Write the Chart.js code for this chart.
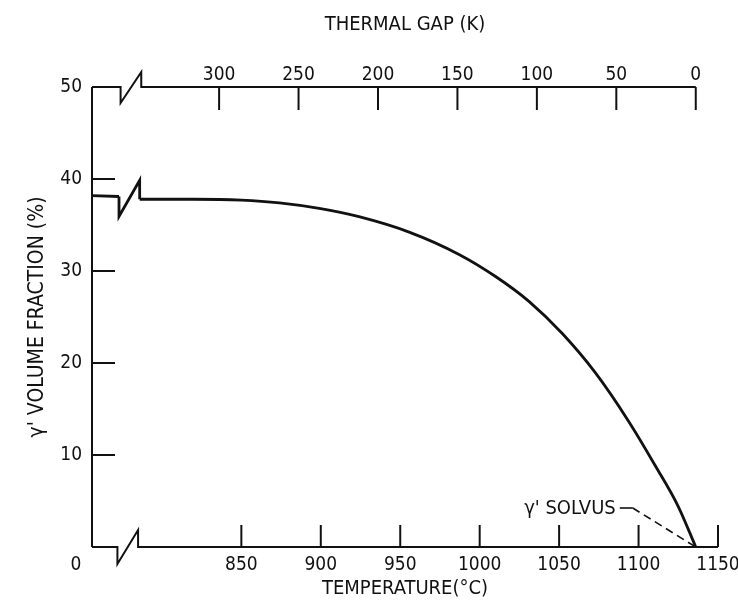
<!DOCTYPE html>
<html>
<head>
<meta charset="utf-8">
<script src="https://cdn.jsdelivr.net/npm/chart.js@4.4.1/dist/chart.umd.min.js"></script>
<style>
  html, body { margin: 0; padding: 0; background: #fff; }
  #wrap { width: 738px; height: 601px; }
</style>
</head>
<body>
<div id="wrap"><canvas id="chart" width="738" height="601"></canvas></div>
<script>
// gamma prime solvus temperature (°C), thermal gap K = solvus - T
const solvus = 1136;

// curve left of the axis break
const leftTemp = [756, 773];
const leftFrac = [38.2, 38.1];

// main curve
const curveTemp = [786, 820, 850, 874, 899, 924, 956, 987, 1010, 1031, 1052, 1073, 1094, 1111, 1125, 1136];
const curveFrac = [37.8, 37.8, 37.7, 37.4, 36.8, 35.9, 34.2, 31.8, 29.4, 26.7, 23.2, 18.9, 13.6, 8.7, 4.4, 0];

// tick labels
const tempTicks = [850, 900, 950, 1000, 1050, 1100, 1150];
const gapTicks = [0, 50, 100, 150, 200, 250, 300];
const fracTicks = [10, 20, 30, 40, 50];

// break positions (°C) on bottom axis, top axis and curve
const bottomBreak = [772, 785];
const topBreak = [774, 787];
const curveBreak = [773, 786];

const FONT = "'Liberation Sans Narrow', 'DejaVu Sans Condensed', 'Arial Narrow', sans-serif";
const INK = '#111';

const zip = (xs, ys) => xs.map((v, i) => ({ x: v, y: ys[i] }));

function poly(ctx, pts) {
  ctx.beginPath();
  ctx.moveTo(pts[0][0], pts[0][1]);
  for (let i = 1; i < pts.length; i++) ctx.lineTo(pts[i][0], pts[i][1]);
  ctx.stroke();
}

// keep the plot box fixed, no extra room for edge labels
const noPad = s => { s.paddingLeft = 0; s.paddingRight = 0; s.paddingTop = 0; s.paddingBottom = 0; };

const axisDecor = {
  id: 'axisDecor',
  afterDatasetsDraw(chart) {
    const { ctx, chartArea: a, scales: { x, y, x2 } } = chart;
    ctx.save();
    ctx.strokeStyle = INK;
    ctx.fillStyle = INK;
    ctx.lineWidth = 2;
    ctx.lineJoin = 'miter';

    // left axis
    poly(ctx, [[a.left, a.top], [a.left, a.bottom]]);

    // bottom axis with break
    const b1 = x.getPixelForValue(bottomBreak[0]), b2 = x.getPixelForValue(bottomBreak[1]);
    poly(ctx, [[a.left, a.bottom], [b1, a.bottom], [b1, a.bottom + 17], [b2, a.bottom - 17], [b2, a.bottom], [a.right, a.bottom]]);

    // top axis with break, ends at the solvus
    const t1 = x.getPixelForValue(topBreak[0]), t2 = x.getPixelForValue(topBreak[1]);
    poly(ctx, [[a.left, a.top], [t1, a.top], [t1, a.top + 16], [t2, a.top - 15], [t2, a.top], [x.getPixelForValue(solvus), a.top]]);

    // inward ticks
    fracTicks.filter(v => v < 50).forEach(v => {
      const py = y.getPixelForValue(v);
      poly(ctx, [[a.left, py], [a.left + 23, py]]);
    });
    tempTicks.forEach(v => {
      const px = x.getPixelForValue(v);
      poly(ctx, [[px, a.bottom], [px, a.bottom - 22]]);
    });
    gapTicks.forEach(v => {
      const px = x2.getPixelForValue(v);
      poly(ctx, [[px, a.top], [px, a.top + 23]]);
    });

    // break on the curve
    ctx.lineWidth = 2.8;
    const c1 = x.getPixelForValue(curveBreak[0]), c2 = x.getPixelForValue(curveBreak[1]);
    const yl = y.getPixelForValue(leftFrac[leftFrac.length - 1]), yr = y.getPixelForValue(curveFrac[0]);
    poly(ctx, [[c1, yl], [c1, yl + 20], [c2, yr - 19], [c2, yr]]);

    // corner zero label
    ctx.font = '19px ' + FONT;
    ctx.textAlign = 'center';
    ctx.textBaseline = 'middle';
    ctx.fillText('0', a.left - 16, a.bottom + 18);

    // solvus call-out
    const ex = x.getPixelForValue(solvus), ey = y.getPixelForValue(0);
    ctx.lineWidth = 1.6;
    poly(ctx, [[ex - 76, ey - 39], [ex - 63, ey - 39]]);
    ctx.setLineDash([8, 5]);
    poly(ctx, [[ex - 63, ey - 39], [ex, ey]]);
    ctx.setLineDash([]);
    ctx.font = '20px ' + FONT;
    ctx.textAlign = 'right';
    ctx.fillText("γ' SOLVUS", ex - 80, ey - 38);
    ctx.restore();
  }
};

const lineStyle = {
  showLine: true,
  borderColor: INK,
  borderWidth: 2.8,
  pointRadius: 0,
  fill: false
};

const tickFont = { family: FONT, size: 19 };
const titleFont = { family: FONT, size: 20 };

new Chart(document.getElementById('chart'), {
  type: 'scatter',
  data: {
    datasets: [
      { ...lineStyle, data: zip(leftTemp, leftFrac) },
      { ...lineStyle, data: zip(curveTemp, curveFrac), cubicInterpolationMode: 'monotone' }
    ]
  },
  options: {
    responsive: false,
    animation: false,
    layout: { padding: { left: 0, right: 20, top: 0, bottom: 0 } },
    plugins: { legend: { display: false }, tooltip: { enabled: false } },
    scales: {
      x: {
        type: 'linear',
        position: 'bottom',
        min: 756,
        max: 1150,
        afterBuildTicks: s => { s.ticks = tempTicks.map(v => ({ value: v })); },
        afterFit: s => { s.height = 54; noPad(s); },
        grid: { display: false, drawTicks: false },
        border: { display: false },
        ticks: { padding: 7, color: INK, font: tickFont, maxRotation: 0, callback: v => String(v) },
        title: { display: true, text: 'TEMPERATURE(°C)', color: INK, font: titleFont, padding: { top: 0, bottom: 0 } }
      },
      x2: {
        type: 'linear',
        position: 'top',
        min: solvus - 1150,
        max: solvus - 756,
        reverse: true,
        afterBuildTicks: s => { s.ticks = gapTicks.map(v => ({ value: v })); },
        afterFit: s => { s.height = 87; noPad(s); },
        grid: { display: false, drawTicks: false },
        border: { display: false },
        ticks: { padding: 1, color: INK, font: tickFont, maxRotation: 0, callback: v => String(v) },
        title: { display: true, text: 'THERMAL GAP (K)', color: INK, font: titleFont, padding: { top: 13, bottom: 0 } }
      },
      y: {
        min: 0,
        max: 50,
        afterBuildTicks: s => { s.ticks = fracTicks.map(v => ({ value: v })); },
        afterFit: s => { s.width = 92; noPad(s); },
        grid: { display: false, drawTicks: false },
        border: { display: false },
        ticks: { padding: 10, color: INK, font: tickFont, callback: v => String(v) },
        title: { display: true, text: "γ' VOLUME FRACTION (%)", color: INK, font: { family: FONT, size: 21 }, padding: { top: 25, bottom: 0 } }
      }
    }
  },
  plugins: [axisDecor]
});
</script>
</body>
</html>
